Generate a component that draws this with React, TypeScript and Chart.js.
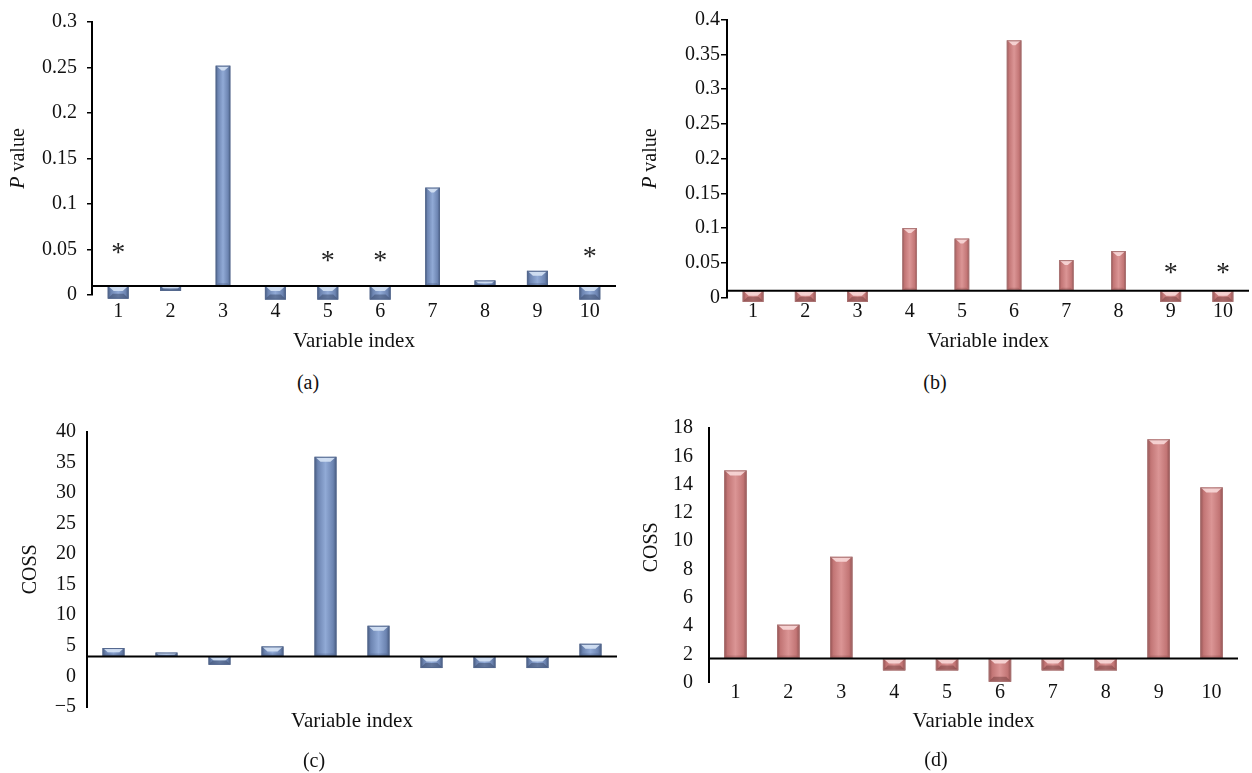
import React, { useEffect, useRef } from 'react';
import { Chart, registerables } from 'chart.js';

Chart.register(...registerables);

const FONT = "'Liberation Serif', 'Times New Roman', serif";
const TEXT = '#111111';

// ---------- data ----------
const categories = ['1', '2', '3', '4', '5', '6', '7', '8', '9', '10'];

// (a) P value, blue
const pValuesA = [-0.004, 0.0045, 0.252, -0.005, -0.005, -0.005, 0.118, 0.016, 0.0266, -0.005];
const baselineA = 0.01;
const yTicksA = [0, 0.05, 0.1, 0.15, 0.2, 0.25, 0.3];
const starCatsA = [1, 5, 6, 10];
const starLevelsA = [0.05, 0.0415, 0.0415, 0.0457];

// (b) P value, red
const pValuesB = [-0.006, -0.006, -0.006, 0.1, 0.085, 0.37, 0.054, 0.067, -0.006, -0.006];
const baselineB = 0.01;
const yTicksB = [0, 0.05, 0.1, 0.15, 0.2, 0.25, 0.3, 0.35, 0.4];
const starCatsB = [9, 10];
const starLevelsB = [0.041, 0.041];

// (c) COSS, blue
const cossC = [4.64, 3.9, 1.91, 4.9, 35.9, 8.28, 1.37, 1.37, 1.37, 5.34];
const baselineC = 3.27;
const yTicksC = [-5, 0, 5, 10, 15, 20, 25, 30, 35, 40];

// (d) COSS, red
const cossD = [15.0, 4.1, 8.9, 0.87, 0.87, 0.07, 0.87, 0.87, 17.2, 13.8];
const baselineD = 1.71;
const yTicksD = [0, 2, 4, 6, 8, 10, 12, 14, 16, 18];

// P-value bars rising clearly above the line are drawn slimmer in the source figure
const SLIM_ABOVE_P = 0.04;

// ---------- styles ----------
type Palette = { edge: string; mid: string; light: string; bevel: string; shade: string; outline: string };
const BLUE: Palette = { edge: '#465a7f', mid: '#6c84b1', light: '#91aad6', bevel: '#d6e3f5', shade: '#3c4d6e', outline: '#54688e' };
const PINK: Palette = { edge: '#8f4f4f', mid: '#c27575', light: '#db9595', bevel: '#f8d8d8', shade: '#7a4141', outline: '#ab7474' };

interface PanelDef {
  key: string;
  values: number[];
  baseline: number;
  yTicks: number[];
  yTitle: string;
  italicFirst: boolean;
  palette: Palette;
  slimAbove: number;
  wideBar: number;
  slimBar: number;
  starCats?: number[];
  starLevels?: number[];
  box: { left: number; top: number; width: number; height: number };
  pad: { left: number; top: number; right: number; bottom: number };
  yWidth: number;
  xHeight: number;
  yTickLen: number;
  yTickPad: number;
  yTitleX: number;
  yTitleDy: number;
  xTickPad: number;
  xTitlePadBottom: number;
  caption: string;
  captionX: number;
  captionY: number;
}

const panels: PanelDef[] = [
  {
    key: 'a', values: pValuesA, baseline: baselineA, yTicks: yTicksA, yTitle: 'P value', italicFirst: true,
    palette: BLUE, slimAbove: SLIM_ABOVE_P, wideBar: 0.4, slimBar: 0.28,
    starCats: starCatsA, starLevels: starLevelsA,
    box: { left: 0, top: 0, width: 626, height: 360 },
    pad: { left: 0, top: 14, right: 10, bottom: 0 },
    yWidth: 92, xHeight: 65, yTickLen: 5, yTickPad: 10, yTitleX: 19, yTitleDy: 0,
    xTickPad: 4.5, xTitlePadBottom: 6, caption: '(a)', captionX: 308, captionY: 382,
  },
  {
    key: 'b', values: pValuesB, baseline: baselineB, yTicks: yTicksB, yTitle: 'P value', italicFirst: true,
    palette: PINK, slimAbove: SLIM_ABOVE_P, wideBar: 0.4, slimBar: 0.28,
    starCats: starCatsB, starLevels: starLevelsB,
    box: { left: 626, top: 0, width: 626, height: 360 },
    pad: { left: 0, top: 19.5, right: 3, bottom: 0 },
    yWidth: 101, xHeight: 62.3, yTickLen: 6, yTickPad: 1, yTitleX: 25, yTitleDy: 0,
    xTickPad: 2, xTitlePadBottom: 6, caption: '(b)', captionX: 935, captionY: 382,
  },
  {
    key: 'c', values: cossC, baseline: baselineC, yTicks: yTicksC, yTitle: 'COSS', italicFirst: false,
    palette: BLUE, slimAbove: Infinity, wideBar: 0.415, slimBar: 0.415,
    box: { left: 0, top: 400, width: 626, height: 373 },
    pad: { left: 0, top: 31.7, right: 9, bottom: 0 },
    yWidth: 87, xHeight: 66, yTickLen: 0, yTickPad: 11, yTitleX: 31, yTitleDy: 0,
    xTickPad: -24.5, xTitlePadBottom: 39, caption: '(c)', captionX: 314, captionY: 760,
  },
  {
    key: 'd', values: cossD, baseline: baselineD, yTicks: yTicksD, yTitle: 'COSS', italicFirst: false,
    palette: PINK, slimAbove: Infinity, wideBar: 0.425, slimBar: 0.425,
    box: { left: 626, top: 400, width: 626, height: 373 },
    pad: { left: 0, top: 20, right: 14, bottom: 0 },
    yWidth: 83, xHeight: 90.3, yTickLen: 0, yTickPad: 16, yTitleX: 26, yTitleDy: -8,
    xTickPad: -1.7, xTitlePadBottom: 39, caption: '(d)', captionX: 936, captionY: 759,
  },
];

function fmt(v: number): string {
  const s = String(+Math.abs(v).toFixed(4));
  return v < 0 ? '\u2212' + s : s;
}

function drawBar(ctx: CanvasRenderingContext2D, x: number, y: number, base: number, width: number, pal: Palette) {
  const left = x - width / 2;
  const w = width;
  const top = Math.min(y, base);
  const h = Math.abs(base - y);
  if (h < 0.5) return;
  const up = y < base;
  ctx.save();
  const g = ctx.createLinearGradient(left, 0, left + w, 0);
  g.addColorStop(0, pal.edge);
  g.addColorStop(0.15, pal.mid);
  g.addColorStop(0.5, pal.light);
  g.addColorStop(0.85, pal.mid);
  g.addColorStop(1, pal.edge);
  ctx.fillStyle = g;
  ctx.fillRect(left, top, w, h);
  const d = Math.min(5, h / 2, w / 3);
  // top bevel highlight
  ctx.fillStyle = pal.bevel;
  ctx.globalAlpha = 0.9;
  ctx.beginPath();
  ctx.moveTo(left + 1, top + 0.5);
  ctx.lineTo(left + w - 1, top + 0.5);
  ctx.lineTo(left + w - d - 1, top + d);
  ctx.lineTo(left + d + 1, top + d);
  ctx.closePath();
  ctx.fill();
  // bottom shade
  ctx.fillStyle = pal.shade;
  ctx.globalAlpha = up ? 0.25 : 0.55;
  const sd = up ? Math.min(3, h / 3) : d;
  ctx.beginPath();
  ctx.moveTo(left, top + h);
  ctx.lineTo(left + w, top + h);
  ctx.lineTo(left + w - sd, top + h - sd);
  ctx.lineTo(left + sd, top + h - sd);
  ctx.closePath();
  ctx.fill();
  ctx.globalAlpha = 1;
  ctx.strokeStyle = pal.outline;
  ctx.lineWidth = 1;
  ctx.strokeRect(left + 0.5, top + 0.5, w - 1, h - 1);
  ctx.restore();
}

function makePlugin(p: PanelDef) {
  return {
    id: 'decor_' + p.key,
    afterDatasetsDraw(chart: any) {
      const ctx: CanvasRenderingContext2D = chart.ctx;
      const ys = chart.scales.y;
      const xs = chart.scales.x;
      const area = chart.chartArea;
      chart.data.datasets.forEach((ds: any, di: number) => {
        const meta = chart.getDatasetMeta(di);
        meta.data.forEach((el: any, i: number) => {
          const v = ds.data[i];
          if (v === null || v === undefined) return;
          const { x, y, base, width } = el.getProps(['x', 'y', 'base', 'width'], true);
          drawBar(ctx, x, y, base, width, p.palette);
        });
      });
      ctx.save();
      // crossing line at the baseline value
      const by = ys.getPixelForValue(p.baseline);
      ctx.strokeStyle = '#000';
      ctx.lineWidth = 2;
      ctx.beginPath();
      ctx.moveTo(area.left, by);
      ctx.lineTo(area.right, by);
      ctx.stroke();
      // significance stars
      if (p.starCats && p.starLevels) {
        ctx.fillStyle = '#222';
        ctx.font = `28px ${FONT}`;
        ctx.textAlign = 'center';
        ctx.textBaseline = 'middle';
        p.starCats.forEach((c, k) => {
          const sx = xs.getPixelForValue(c - 1);
          const sy = ys.getPixelForValue(p.starLevels![k]);
          ctx.fillText('*', sx, sy + 4.5);
        });
      }
      // y-axis title (rotated, with italic P)
      const cy = (area.top + area.bottom) / 2 + p.yTitleDy;
      ctx.translate(p.yTitleX, cy);
      ctx.rotate(-Math.PI / 2);
      ctx.fillStyle = TEXT;
      ctx.textBaseline = 'middle';
      ctx.textAlign = 'left';
      let first = '';
      let rest = p.yTitle;
      if (p.italicFirst) {
        first = p.yTitle.slice(0, 1);
        rest = p.yTitle.slice(1);
      }
      ctx.font = `italic 20px ${FONT}`;
      const w1 = first ? ctx.measureText(first).width : 0;
      ctx.font = `20px ${FONT}`;
      const w2 = ctx.measureText(rest).width;
      const start = -(w1 + w2) / 2;
      if (first) {
        ctx.font = `italic 20px ${FONT}`;
        ctx.fillText(first, start, 0);
      }
      ctx.font = `20px ${FONT}`;
      ctx.fillText(rest, start + w1, 0);
      ctx.restore();
    },
  };
}

function buildConfig(p: PanelDef): any {
  const wide = p.values.map((v) => (v - p.baseline > p.slimAbove ? null : v));
  const slim = p.values.map((v) => (v - p.baseline > p.slimAbove ? v : null));
  const common = {
    base: p.baseline,
    categoryPercentage: 1,
    backgroundColor: 'rgba(0,0,0,0)',
    borderWidth: 0,
    grouped: false,
  };
  return {
    type: 'bar',
    data: {
      labels: categories,
      datasets: [
        { ...common, data: wide, barPercentage: p.wideBar },
        { ...common, data: slim, barPercentage: p.slimBar },
      ],
    },
    options: {
      responsive: false,
      animation: false,
      layout: { padding: p.pad },
      plugins: { legend: { display: false }, tooltip: { enabled: false }, title: { display: false } },
      scales: {
        x: {
          type: 'category',
          offset: true,
          grid: { display: false, drawTicks: false },
          border: { display: false },
          ticks: { color: TEXT, font: { family: FONT, size: 20 }, padding: p.xTickPad, autoSkip: false, maxRotation: 0 },
          title: {
            display: true, text: 'Variable index', color: TEXT,
            font: { family: FONT, size: 21 }, padding: { top: 0, bottom: p.xTitlePadBottom },
          },
          afterFit: (s: any) => { s.height = p.xHeight; },
        },
        y: {
          type: 'linear',
          min: p.yTicks[0],
          max: p.yTicks[p.yTicks.length - 1],
          afterBuildTicks: (s: any) => { s.ticks = p.yTicks.map((v) => ({ value: v })); },
          grid: p.yTickLen > 0
            ? { display: true, drawOnChartArea: false, drawTicks: true, tickLength: p.yTickLen, color: '#000', lineWidth: 1.5 }
            : { display: false, drawTicks: false },
          border: { display: true, color: '#000', width: 2 },
          ticks: { color: TEXT, font: { family: FONT, size: 20 }, padding: p.yTickPad, callback: (v: any) => fmt(Number(v)) },
          title: { display: false },
          afterFit: (s: any) => { s.width = p.yWidth; },
        },
      },
    },
    plugins: [makePlugin(p)],
  };
}

function Panel({ p }: { p: PanelDef }) {
  const ref = useRef<HTMLCanvasElement | null>(null);
  useEffect(() => {
    if (!ref.current) return;
    const chart = new Chart(ref.current, buildConfig(p));
    return () => chart.destroy();
  }, [p]);
  return (
    <>
      <div style={{ position: 'absolute', left: p.box.left, top: p.box.top, width: p.box.width, height: p.box.height }}>
        <canvas
          ref={ref}
          width={p.box.width}
          height={p.box.height}
          style={{ display: 'block', width: p.box.width, height: p.box.height }}
        />
      </div>
      <div
        style={{
          position: 'absolute', left: p.captionX - 40, top: p.captionY - 12, width: 80,
          textAlign: 'center', font: `20px ${FONT}`, lineHeight: '24px', color: TEXT,
        }}
      >
        {p.caption}
      </div>
    </>
  );
}

export default function App() {
  return (
    <div style={{ position: 'absolute', left: 0, top: 0, width: 1252, height: 773, background: '#fff', overflow: 'hidden' }}>
      {panels.map((p) => (
        <Panel key={p.key} p={p} />
      ))}
    </div>
  );
}
